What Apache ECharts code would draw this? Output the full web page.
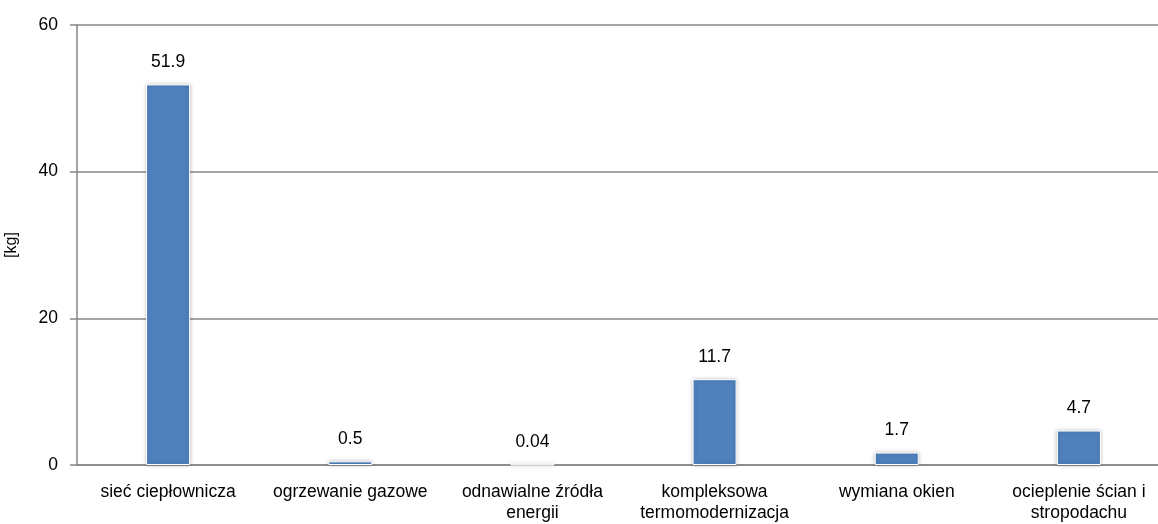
<!DOCTYPE html>
<html><head><meta charset="utf-8">
<script src="https://cdn.jsdelivr.net/npm/echarts@6/dist/echarts.min.js"></script>
<style>html,body{margin:0;padding:0;background:#fff}#c{width:1158px;height:524px}</style>
</head><body><div id="c"></div>
<script>
const categories = ['sieć ciepłownicza', 'ogrzewanie gazowe', 'odnawialne źródła\nenergii', 'kompleksowa\ntermomodernizacja', 'wymiana okien', 'ocieplenie ścian i\nstropodachu'];
const values = [51.9, 0.5, 0.04, 11.7, 1.7, 4.7];
const yTicks = [0, 20, 40, 60];
const yName = '[kg]';

const chart = echarts.init(document.getElementById('c'), null, {renderer: 'canvas'});
const font = 'Liberation Sans, Arial, sans-serif';
chart.setOption({
  animation: false,
  grid: {left: 77, right: -12, top: 25, bottom: 59, containLabel: false, outerBoundsMode: 'none'},
  xAxis: {
    type: 'category', data: categories,
    axisLine: {lineStyle: {color: '#868686', width: 1.5}},
    axisTick: {show: false},
    axisLabel: {color: '#000', fontFamily: font, fontSize: 17.5, margin: 17, lineHeight: 21, interval: 0}
  },
  yAxis: {
    type: 'value', min: 0, max: 60, interval: 20,
    name: yName, nameLocation: 'middle', nameGap: 57, nameRotate: 90,
    nameTextStyle: {color: '#000', fontFamily: font, fontSize: 16},
    axisLine: {show: true, lineStyle: {color: '#868686', width: 1.5}},
    axisTick: {show: true, length: 7, lineStyle: {color: '#868686', width: 1.5}},
    axisLabel: {color: '#000', fontFamily: font, fontSize: 17.5, margin: 19,
      formatter: v => yTicks.includes(v) ? String(v) : ''},
    splitLine: {lineStyle: {color: '#868686', width: 1.5}}
  },
  series: [{
    type: 'bar', data: values, barWidth: 44,
    itemStyle: {color: '#4F81BD', borderColor: '#fff', borderWidth: 1,
      shadowColor: 'rgba(0,0,0,0.25)', shadowBlur: 4, shadowOffsetX: 0, shadowOffsetY: 0},
    label: {show: true, position: 'top', distance: 13, color: '#000', fontFamily: font, fontSize: 17.5,
      formatter: p => String(values[p.dataIndex])}
  }]
});
</script></body></html>
